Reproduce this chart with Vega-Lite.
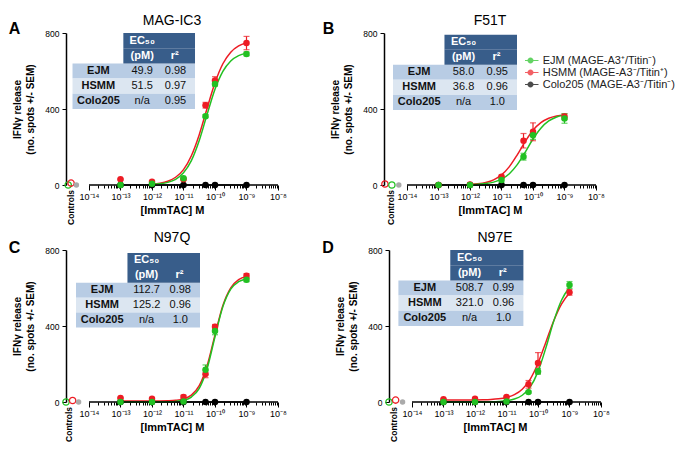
{
"$schema": "https://vega.github.io/schema/vega-lite/v6.json",
"padding": {"left": 8, "top": 14, "right": 0, "bottom": 0},
"config": {"font": "Liberation Sans", "view": {"stroke": null}, "title": {"color": "#000", "font": "Liberation Sans"}},
"datasets": {
"pts": [
{"panel":"A","series":"Colo205","conc":1e-13,"resp":0},{"panel":"A","series":"Colo205","conc":1e-12,"resp":0},{"panel":"A","series":"Colo205","conc":1e-11,"resp":0},{"panel":"A","series":"Colo205","conc":5e-11,"resp":0},{"panel":"A","series":"Colo205","conc":1e-10,"resp":0},{"panel":"A","series":"Colo205","conc":1e-9,"resp":0},
{"panel":"A","series":"HSMM","conc":1e-13,"resp":30,"lo":26,"hi":34},{"panel":"A","series":"HSMM","conc":1e-12,"resp":17,"lo":14,"hi":20},{"panel":"A","series":"HSMM","conc":1e-11,"resp":30,"lo":25,"hi":35},{"panel":"A","series":"HSMM","conc":5e-11,"resp":420,"lo":405,"hi":435},{"panel":"A","series":"HSMM","conc":1e-10,"resp":550,"lo":530,"hi":570},{"panel":"A","series":"HSMM","conc":1e-9,"resp":747,"lo":712,"hi":782},
{"panel":"A","series":"EJM","conc":1e-13,"resp":0},{"panel":"A","series":"EJM","conc":1e-12,"resp":7,"lo":4,"hi":10},{"panel":"A","series":"EJM","conc":1e-11,"resp":35,"lo":30,"hi":40},{"panel":"A","series":"EJM","conc":5e-11,"resp":362,"lo":354,"hi":370},{"panel":"A","series":"EJM","conc":1e-10,"resp":532,"lo":520,"hi":544},{"panel":"A","series":"EJM","conc":1e-9,"resp":690,"lo":680,"hi":700},
{"panel":"B","series":"Colo205","conc":1e-13,"resp":0},{"panel":"B","series":"Colo205","conc":1e-12,"resp":0},{"panel":"B","series":"Colo205","conc":1e-11,"resp":0},{"panel":"B","series":"Colo205","conc":5e-11,"resp":0},{"panel":"B","series":"Colo205","conc":1e-10,"resp":0},{"panel":"B","series":"Colo205","conc":1e-9,"resp":0},
{"panel":"B","series":"HSMM","conc":1e-13,"resp":0},{"panel":"B","series":"HSMM","conc":1e-12,"resp":3,"lo":1,"hi":5},{"panel":"B","series":"HSMM","conc":1e-11,"resp":44,"lo":36,"hi":52},{"panel":"B","series":"HSMM","conc":5e-11,"resp":233,"lo":195,"hi":271},{"panel":"B","series":"HSMM","conc":1e-10,"resp":280,"lo":233,"hi":327},{"panel":"B","series":"HSMM","conc":1e-9,"resp":360,"lo":345,"hi":375},
{"panel":"B","series":"EJM","conc":1e-13,"resp":0},{"panel":"B","series":"EJM","conc":1e-12,"resp":0},{"panel":"B","series":"EJM","conc":1e-11,"resp":26,"lo":11,"hi":41},{"panel":"B","series":"EJM","conc":5e-11,"resp":149,"lo":131,"hi":167},{"panel":"B","series":"EJM","conc":1e-10,"resp":262,"lo":240,"hi":284},{"panel":"B","series":"EJM","conc":1e-9,"resp":350,"lo":325,"hi":375},
{"panel":"C","series":"Colo205","conc":1e-13,"resp":0},{"panel":"C","series":"Colo205","conc":1e-12,"resp":0},{"panel":"C","series":"Colo205","conc":1e-11,"resp":0},{"panel":"C","series":"Colo205","conc":5e-11,"resp":0},{"panel":"C","series":"Colo205","conc":1e-10,"resp":0},{"panel":"C","series":"Colo205","conc":1e-9,"resp":0},
{"panel":"C","series":"HSMM","conc":1e-13,"resp":21,"lo":18,"hi":24},{"panel":"C","series":"HSMM","conc":1e-12,"resp":17,"lo":14,"hi":20},{"panel":"C","series":"HSMM","conc":1e-11,"resp":26,"lo":16,"hi":36},{"panel":"C","series":"HSMM","conc":5e-11,"resp":148,"lo":128,"hi":168},{"panel":"C","series":"HSMM","conc":1e-10,"resp":396,"lo":384,"hi":408},{"panel":"C","series":"HSMM","conc":1e-9,"resp":664,"lo":652,"hi":676},
{"panel":"C","series":"EJM","conc":1e-13,"resp":0},{"panel":"C","series":"EJM","conc":1e-12,"resp":0},{"panel":"C","series":"EJM","conc":1e-11,"resp":3},{"panel":"C","series":"EJM","conc":5e-11,"resp":170,"lo":145,"hi":195},{"panel":"C","series":"EJM","conc":1e-10,"resp":374,"lo":354,"hi":394},{"panel":"C","series":"EJM","conc":1e-9,"resp":643,"lo":633,"hi":653},
{"panel":"D","series":"Colo205","conc":1e-13,"resp":0},{"panel":"D","series":"Colo205","conc":1e-12,"resp":0},{"panel":"D","series":"Colo205","conc":1e-11,"resp":0},{"panel":"D","series":"Colo205","conc":5e-11,"resp":0},{"panel":"D","series":"Colo205","conc":1e-10,"resp":0},{"panel":"D","series":"Colo205","conc":1e-9,"resp":0},
{"panel":"D","series":"HSMM","conc":1e-13,"resp":14,"lo":11,"hi":17},{"panel":"D","series":"HSMM","conc":1e-12,"resp":17,"lo":14,"hi":20},{"panel":"D","series":"HSMM","conc":1e-11,"resp":26,"lo":22,"hi":30},{"panel":"D","series":"HSMM","conc":5e-11,"resp":93,"lo":73,"hi":113},{"panel":"D","series":"HSMM","conc":1e-10,"resp":205,"lo":150,"hi":260},{"panel":"D","series":"HSMM","conc":1e-9,"resp":577,"lo":562,"hi":592},
{"panel":"D","series":"EJM","conc":1e-13,"resp":0},{"panel":"D","series":"EJM","conc":1e-12,"resp":0},{"panel":"D","series":"EJM","conc":1e-11,"resp":3},{"panel":"D","series":"EJM","conc":5e-11,"resp":52,"lo":47,"hi":57},{"panel":"D","series":"EJM","conc":1e-10,"resp":161,"lo":146,"hi":176},{"panel":"D","series":"EJM","conc":1e-9,"resp":616,"lo":598,"hi":634}
],
"ctrl": [
{"panel":"A","series":"EJM","conc":2.188e-15,"resp":0},{"panel":"A","series":"HSMM","conc":2.692e-15,"resp":10},{"panel":"A","series":"Cells","conc":3.981e-15,"resp":0},
{"panel":"B","series":"HSMM","conc":1.995e-15,"resp":5},{"panel":"B","series":"EJM","conc":3.311e-15,"resp":0},{"panel":"B","series":"Cells","conc":5.495e-15,"resp":0},
{"panel":"C","series":"EJM","conc":1.862e-15,"resp":0},{"panel":"C","series":"HSMM","conc":3.02e-15,"resp":8},{"panel":"C","series":"Cells","conc":4.677e-15,"resp":0},
{"panel":"D","series":"EJM","conc":1.862e-15,"resp":0},{"panel":"D","series":"HSMM","conc":3.02e-15,"resp":10},{"panel":"D","series":"Cells","conc":5.012e-15,"resp":0}
],
"fit": [
{"panel":"A","series":"Colo205","conc":1e-13,"resp":0},{"panel":"A","series":"Colo205","conc":1e-9,"resp":0},
{"panel":"A","series":"HSMM","conc":1e-12,"resp":4.5},{"panel":"A","series":"HSMM","conc":1.778e-12,"resp":9.5},{"panel":"A","series":"HSMM","conc":3.162e-12,"resp":19.8},{"panel":"A","series":"HSMM","conc":5.623e-12,"resp":40.7},{"panel":"A","series":"HSMM","conc":1e-11,"resp":81},{"panel":"A","series":"HSMM","conc":1.778e-11,"resp":154},{"panel":"A","series":"HSMM","conc":3.162e-11,"resp":265},{"panel":"A","series":"HSMM","conc":5.623e-11,"resp":404},{"panel":"A","series":"HSMM","conc":1e-10,"resp":538},{"panel":"A","series":"HSMM","conc":1.778e-10,"resp":638},{"panel":"A","series":"HSMM","conc":3.162e-10,"resp":699},{"panel":"A","series":"HSMM","conc":5.623e-10,"resp":732},{"panel":"A","series":"HSMM","conc":1e-9,"resp":749},
{"panel":"A","series":"EJM","conc":1e-12,"resp":2.8},{"panel":"A","series":"EJM","conc":1.778e-12,"resp":6.2},{"panel":"A","series":"EJM","conc":3.162e-12,"resp":13.7},{"panel":"A","series":"EJM","conc":5.623e-12,"resp":30},{"panel":"A","series":"EJM","conc":1e-11,"resp":64},{"panel":"A","series":"EJM","conc":1.778e-11,"resp":128},{"panel":"A","series":"EJM","conc":3.162e-11,"resp":234},{"panel":"A","series":"EJM","conc":5.623e-11,"resp":372},{"panel":"A","series":"EJM","conc":1e-10,"resp":504},{"panel":"A","series":"EJM","conc":1.778e-10,"resp":598},{"panel":"A","series":"EJM","conc":3.162e-10,"resp":653},{"panel":"A","series":"EJM","conc":5.623e-10,"resp":681},{"panel":"A","series":"EJM","conc":1e-9,"resp":694},
{"panel":"B","series":"Colo205","conc":1e-13,"resp":0},{"panel":"B","series":"Colo205","conc":1e-9,"resp":0},
{"panel":"B","series":"HSMM","conc":1e-12,"resp":3.1},{"panel":"B","series":"HSMM","conc":1.778e-12,"resp":6.4},{"panel":"B","series":"HSMM","conc":3.162e-12,"resp":13.3},{"panel":"B","series":"HSMM","conc":5.623e-12,"resp":27.2},{"panel":"B","series":"HSMM","conc":1e-11,"resp":53.1},{"panel":"B","series":"HSMM","conc":1.778e-11,"resp":96.9},{"panel":"B","series":"HSMM","conc":3.162e-11,"resp":159},{"panel":"B","series":"HSMM","conc":5.623e-11,"resp":228},{"panel":"B","series":"HSMM","conc":1e-10,"resp":288},{"panel":"B","series":"HSMM","conc":1.778e-10,"resp":328},{"panel":"B","series":"HSMM","conc":3.162e-10,"resp":351},{"panel":"B","series":"HSMM","conc":5.623e-10,"resp":363},{"panel":"B","series":"HSMM","conc":1e-9,"resp":369},
{"panel":"B","series":"EJM","conc":1e-12,"resp":1.7},{"panel":"B","series":"EJM","conc":1.778e-12,"resp":3.5},{"panel":"B","series":"EJM","conc":3.162e-12,"resp":7.3},{"panel":"B","series":"EJM","conc":5.623e-12,"resp":15.1},{"panel":"B","series":"EJM","conc":1e-11,"resp":30.6},{"panel":"B","series":"EJM","conc":1.778e-11,"resp":59.5},{"panel":"B","series":"EJM","conc":3.162e-11,"resp":107},{"panel":"B","series":"EJM","conc":5.623e-11,"resp":172},{"panel":"B","series":"EJM","conc":1e-10,"resp":242},{"panel":"B","series":"EJM","conc":1.778e-10,"resp":299},{"panel":"B","series":"EJM","conc":3.162e-10,"resp":337},{"panel":"B","series":"EJM","conc":5.623e-10,"resp":358},{"panel":"B","series":"EJM","conc":1e-9,"resp":369},
{"panel":"C","series":"Colo205","conc":1e-13,"resp":0},{"panel":"C","series":"Colo205","conc":1e-9,"resp":0},
{"panel":"C","series":"HSMM","conc":1e-13,"resp":5},{"panel":"C","series":"HSMM","conc":3.162e-13,"resp":5.1},{"panel":"C","series":"HSMM","conc":1e-12,"resp":5.2},{"panel":"C","series":"HSMM","conc":1.778e-12,"resp":5.5},{"panel":"C","series":"HSMM","conc":3.162e-12,"resp":6.5},{"panel":"C","series":"HSMM","conc":5.623e-12,"resp":9.1},{"panel":"C","series":"HSMM","conc":1e-11,"resp":16.4},{"panel":"C","series":"HSMM","conc":1.778e-11,"resp":36.1},{"panel":"C","series":"HSMM","conc":3.162e-11,"resp":85.7},{"panel":"C","series":"HSMM","conc":5.623e-11,"resp":191},{"panel":"C","series":"HSMM","conc":1e-10,"resp":353},{"panel":"C","series":"HSMM","conc":1.778e-10,"resp":508},{"panel":"C","series":"HSMM","conc":3.162e-10,"resp":601},{"panel":"C","series":"HSMM","conc":5.623e-10,"resp":644},{"panel":"C","series":"HSMM","conc":1e-9,"resp":660.5},
{"panel":"C","series":"EJM","conc":1e-13,"resp":0},{"panel":"C","series":"EJM","conc":3.162e-13,"resp":0},{"panel":"C","series":"EJM","conc":1e-12,"resp":0.1},{"panel":"C","series":"EJM","conc":1.778e-12,"resp":0.3},{"panel":"C","series":"EJM","conc":3.162e-12,"resp":1},{"panel":"C","series":"EJM","conc":5.623e-12,"resp":3},{"panel":"C","series":"EJM","conc":1e-11,"resp":9},{"panel":"C","series":"EJM","conc":1.778e-11,"resp":26},{"panel":"C","series":"EJM","conc":3.162e-11,"resp":72},{"panel":"C","series":"EJM","conc":5.623e-11,"resp":176.5},{"panel":"C","series":"EJM","conc":1e-10,"resp":343.5},{"panel":"C","series":"EJM","conc":1.778e-10,"resp":502},{"panel":"C","series":"EJM","conc":3.162e-10,"resp":594.5},{"panel":"C","series":"EJM","conc":5.623e-10,"resp":633},{"panel":"C","series":"EJM","conc":1e-9,"resp":647.6},
{"panel":"D","series":"Colo205","conc":1e-13,"resp":0},{"panel":"D","series":"Colo205","conc":1e-9,"resp":0},
{"panel":"D","series":"HSMM","conc":1e-13,"resp":10},{"panel":"D","series":"HSMM","conc":3.162e-13,"resp":10.2},{"panel":"D","series":"HSMM","conc":1e-12,"resp":10.7},{"panel":"D","series":"HSMM","conc":1.778e-12,"resp":11.5},{"panel":"D","series":"HSMM","conc":3.162e-12,"resp":13.1},{"panel":"D","series":"HSMM","conc":5.623e-12,"resp":16.6},{"panel":"D","series":"HSMM","conc":1e-11,"resp":23.8},{"panel":"D","series":"HSMM","conc":1.778e-11,"resp":38.4},{"panel":"D","series":"HSMM","conc":3.162e-11,"resp":67.2},{"panel":"D","series":"HSMM","conc":5.623e-11,"resp":119.6},{"panel":"D","series":"HSMM","conc":1e-10,"resp":204},{"panel":"D","series":"HSMM","conc":1.778e-10,"resp":315},{"panel":"D","series":"HSMM","conc":3.162e-10,"resp":428},{"panel":"D","series":"HSMM","conc":5.623e-10,"resp":517},{"panel":"D","series":"HSMM","conc":1e-9,"resp":574},
{"panel":"D","series":"EJM","conc":1e-13,"resp":0},{"panel":"D","series":"EJM","conc":3.162e-13,"resp":0},{"panel":"D","series":"EJM","conc":1e-12,"resp":0.2},{"panel":"D","series":"EJM","conc":1.778e-12,"resp":0.5},{"panel":"D","series":"EJM","conc":3.162e-12,"resp":1.2},{"panel":"D","series":"EJM","conc":5.623e-12,"resp":2.8},{"panel":"D","series":"EJM","conc":1e-11,"resp":6.6},{"panel":"D","series":"EJM","conc":1.778e-11,"resp":15.4},{"panel":"D","series":"EJM","conc":3.162e-11,"resp":35.5},{"panel":"D","series":"EJM","conc":5.623e-11,"resp":78.4},{"panel":"D","series":"EJM","conc":1e-10,"resp":160},{"panel":"D","series":"EJM","conc":1.778e-10,"resp":285},{"panel":"D","series":"EJM","conc":3.162e-10,"resp":425.6},{"panel":"D","series":"EJM","conc":5.623e-10,"resp":537},{"panel":"D","series":"EJM","conc":1e-9,"resp":604}
],
"tbl": [
{"panel":"A","row":"h1","name":"","ec50":"EC₅₀","r2":""},{"panel":"A","row":"h2","name":"","ec50":"(pM)","r2":"r²"},{"panel":"A","row":"EJM","name":"EJM","ec50":"49.9","r2":"0.98"},{"panel":"A","row":"HSMM","name":"HSMM","ec50":"51.5","r2":"0.97"},{"panel":"A","row":"Colo205","name":"Colo205","ec50":"n/a","r2":"0.95"},
{"panel":"B","row":"h1","name":"","ec50":"EC₅₀","r2":""},{"panel":"B","row":"h2","name":"","ec50":"(pM)","r2":"r²"},{"panel":"B","row":"EJM","name":"EJM","ec50":"58.0","r2":"0.95"},{"panel":"B","row":"HSMM","name":"HSMM","ec50":"36.8","r2":"0.96"},{"panel":"B","row":"Colo205","name":"Colo205","ec50":"n/a","r2":"1.0"},
{"panel":"C","row":"h1","name":"","ec50":"EC₅₀","r2":""},{"panel":"C","row":"h2","name":"","ec50":"(pM)","r2":"r²"},{"panel":"C","row":"EJM","name":"EJM","ec50":"112.7","r2":"0.98"},{"panel":"C","row":"HSMM","name":"HSMM","ec50":"125.2","r2":"0.96"},{"panel":"C","row":"Colo205","name":"Colo205","ec50":"n/a","r2":"1.0"},
{"panel":"D","row":"h1","name":"","ec50":"EC₅₀","r2":""},{"panel":"D","row":"h2","name":"","ec50":"(pM)","r2":"r²"},{"panel":"D","row":"EJM","name":"EJM","ec50":"508.7","r2":"0.99"},{"panel":"D","row":"HSMM","name":"HSMM","ec50":"321.0","r2":"0.96"},{"panel":"D","row":"Colo205","name":"Colo205","ec50":"n/a","r2":"1.0"}
]
},
"spacing": 6,
"vconcat": [
{"spacing": 35, "hconcat": [
{"title": {"text": "A", "anchor": "start", "frame": "bounds", "fontSize": 16, "fontWeight": "bold", "offset": -22.5, "dx": -4},
 "vconcat": [{
  "title": {"text": "MAG-IC3", "fontSize": 14, "fontWeight": "normal", "offset": 1},
  "width": 212, "height": 152,
  "layer": [
   {"layer": [
    {"data": {"name": "fit"}, "transform": [{"filter": "datum.panel === 'A'"}],
     "mark": {"type": "line", "interpolate": "monotone", "strokeWidth": 1.5},
     "encoding": {
      "x": {"field": "conc", "type": "quantitative", "scale": {"type": "log", "domain": [1.862e-15, 1e-8], "nice": false},
        "axis": {"values": [1e-14,2e-14,3e-14,4e-14,5e-14,6e-14,7e-14,8e-14,9e-14,1e-13,2e-13,3e-13,4e-13,5e-13,6e-13,7e-13,8e-13,9e-13,1e-12,2e-12,3e-12,4e-12,5e-12,6e-12,7e-12,8e-12,9e-12,1e-11,2e-11,3e-11,4e-11,5e-11,6e-11,7e-11,8e-11,9e-11,1e-10,2e-10,3e-10,4e-10,5e-10,6e-10,7e-10,8e-10,9e-10,1e-9,2e-9,3e-9,4e-9,5e-9,6e-9,7e-9,8e-9,9e-9,1e-8],
         "labelExpr": "indexof([1e-14,1e-13,1e-12,1e-11,1e-10,1e-9,1e-8], datum.value) < 0 ? '' : ['10⁻¹⁴','10⁻¹³','10⁻¹²','10⁻¹¹','10⁻¹⁰','10⁻⁹','10⁻⁸'][indexof([1e-14,1e-13,1e-12,1e-11,1e-10,1e-9,1e-8], datum.value)]",
         "tickSize": {"condition": {"test": "indexof([1e-14,1e-13,1e-12,1e-11,1e-10,1e-9,1e-8], datum.value) >= 0", "value": 5}, "value": 3},
         "domain": false, "grid": false, "tickColor": "#000", "tickWidth": 1, "labelFontSize": 9, "labelColor": "#000", "labelPadding": 2, "labelOverlap": false, "labelFlush": false, "labelBound": false,
         "title": "[ImmTAC] M", "titleFontSize": 11, "titleFontWeight": "bold", "titleColor": "#000", "titlePadding": 3}},
      "y": {"field": "resp", "type": "quantitative", "scale": {"domain": [0, 800], "nice": false},
        "axis": {"values": [0,100,200,300,400,500,600,700,800], "format": "d", "labelExpr": "datum.value % 200 === 0 ? datum.label : ''", "tickSize": {"condition": {"test": "datum.value % 200 === 0", "value": 4}, "value": 2.5}, "domainColor": "#000", "domainWidth": 1.5, "tickColor": "#000", "grid": false, "labelFontSize": 8.5, "labelColor": "#000", "labelPadding": 3, "labelOverlap": false, "title": ["IFNγ release", "(no. spots +/- SEM)"], "titleFontSize": 10, "titleFontWeight": "bold", "titleColor": "#000", "titleLineHeight": 13, "titlePadding": 9}},
      "color": {"field": "series", "type": "nominal", "scale": {"domain": ["EJM", "HSMM", "Colo205"], "range": ["#22c022", "#ed1c24", "#000000"]},
        "legend": {"orient": "none", "legendX": 459, "legendY": 21.5, "title": null, "labelExpr": "datum.label === 'EJM' ? 'EJM (MAGE-A3⁺/Titin⁻)' : datum.label === 'HSMM' ? 'HSMM (MAGE-A3⁻/Titin⁺)' : 'Colo205 (MAGE-A3⁻/Titin⁻)'", "symbolType": "M-1.6,-0.12L1.6,-0.12L1.6,0.12L-1.6,0.12Z M0.6,0A0.6,0.6,0,1,1,-0.6,0A0.6,0.6,0,1,1,0.6,0Z", "symbolSize": 100, "symbolStrokeWidth": 0, "labelFontSize": 11, "labelColor": "#222", "labelLimit": 200, "clipHeight": 12, "rowPadding": 0, "labelOffset": 6.7, "padding": 0}}}},
    {"data": {"values": [{}]}, "mark": {"type": "rule", "color": "#000", "strokeWidth": 1.5},
     "encoding": {"x": {"datum": 1e-14, "type": "quantitative"}, "x2": {"datum": 1e-8}, "y": {"datum": 0, "type": "quantitative"}}},
    {"data": {"name": "pts"}, "transform": [{"filter": "datum.panel === 'A' && isValid(datum.hi)"}],
     "mark": {"type": "rule", "strokeWidth": 1.2},
     "encoding": {"x": {"field": "conc", "type": "quantitative"}, "y": {"field": "lo", "type": "quantitative"}, "y2": {"field": "hi"}, "color": {"field": "series", "type": "nominal"}}},
    {"data": {"name": "pts"}, "transform": [{"filter": "datum.panel === 'A' && isValid(datum.hi)"}],
     "mark": {"type": "tick", "orient": "horizontal", "size": 6, "thickness": 1.2},
     "encoding": {"x": {"field": "conc", "type": "quantitative"}, "y": {"field": "hi", "type": "quantitative"}, "color": {"field": "series", "type": "nominal"}}},
    {"data": {"name": "pts"}, "transform": [{"filter": "datum.panel === 'A' && isValid(datum.lo)"}],
     "mark": {"type": "tick", "orient": "horizontal", "size": 6, "thickness": 1.2},
     "encoding": {"x": {"field": "conc", "type": "quantitative"}, "y": {"field": "lo", "type": "quantitative"}, "color": {"field": "series", "type": "nominal"}}},
    {"data": {"name": "pts"}, "transform": [{"filter": "datum.panel === 'A'"}],
     "mark": {"type": "point", "filled": true, "size": 42, "opacity": 1},
     "encoding": {"x": {"field": "conc", "type": "quantitative"}, "y": {"field": "resp", "type": "quantitative"}, "color": {"field": "series", "type": "nominal"}}},
    {"data": {"name": "ctrl"}, "transform": [{"filter": "datum.panel === 'A' && datum.series !== 'Cells'"}],
     "mark": {"type": "point", "filled": false, "size": 40, "strokeWidth": 1.3, "opacity": 1},
     "encoding": {"x": {"field": "conc", "type": "quantitative"}, "y": {"field": "resp", "type": "quantitative"}, "color": {"field": "series", "type": "nominal"}}},
    {"data": {"name": "ctrl"}, "transform": [{"filter": "datum.panel === 'A' && datum.series === 'Cells'"}],
     "mark": {"type": "point", "filled": true, "size": 30, "color": "#aaaaaa", "opacity": 1},
     "encoding": {"x": {"field": "conc", "type": "quantitative"}, "y": {"field": "resp", "type": "quantitative"}}},
    {"data": {"values": [{}]}, "mark": {"type": "text", "text": "Controls", "angle": 270, "align": "right", "baseline": "middle", "dx": -5, "fontSize": 8.5, "fontWeight": "bold", "color": "#000"},
     "encoding": {"x": {"datum": 2.64e-15, "type": "quantitative"}, "y": {"datum": 0, "type": "quantitative"}}}
   ]},
   {"data": {"name": "tbl"}, "transform": [{"filter": "datum.panel === 'A'"}],
    "layer": [
     {"transform": [{"filter": "datum.row !== 'h1' && datum.row !== 'h2'"}], "mark": {"type": "rect"},
      "encoding": {"x": {"datum": 0, "type": "quantitative", "scale": {"domain": [-0.0531, 1.6775], "nice": false, "zero": false}, "axis": null}, "x2": {"datum": 1},
       "y": {"field": "row", "type": "nominal", "scale": {"domain": ["h1", "h2", "EJM", "HSMM", "Colo205", "_1", "_2", "_3", "_4", "_5"], "paddingInner": 0, "paddingOuter": 0, "align": 0}, "axis": null},
       "fill": {"condition": {"test": "datum.row === 'HSMM'", "value": "#dce6f1"}, "value": "#b8cce4"}}},
     {"transform": [{"filter": "datum.row === 'h1' || datum.row === 'h2'"}], "mark": {"type": "rect", "color": "#385d8a"},
      "encoding": {"x": {"datum": 0.415, "type": "quantitative"}, "x2": {"datum": 1}, "y": {"field": "row", "type": "nominal"}}},
     {"transform": [{"filter": "datum.row !== 'h1' && datum.row !== 'h2'"}], "mark": {"type": "text", "fontSize": 11, "fontWeight": "bold", "color": "#111"},
      "encoding": {"x": {"datum": 0.211, "type": "quantitative"}, "y": {"field": "row", "type": "nominal"}, "text": {"field": "name"}}},
     {"transform": [{"filter": "datum.row !== 'h1' && datum.row !== 'h2'"}], "mark": {"type": "text", "fontSize": 11, "color": "#111"},
      "encoding": {"x": {"datum": 0.569, "type": "quantitative"}, "y": {"field": "row", "type": "nominal"}, "text": {"field": "ec50"}}},
     {"transform": [{"filter": "datum.row !== 'h1' && datum.row !== 'h2'"}], "mark": {"type": "text", "fontSize": 11, "color": "#111"},
      "encoding": {"x": {"datum": 0.841, "type": "quantitative"}, "y": {"field": "row", "type": "nominal"}, "text": {"field": "r2"}}},
     {"transform": [{"filter": "datum.row === 'h1' || datum.row === 'h2'"}], "mark": {"type": "text", "fontSize": 11, "fontWeight": "bold", "color": "#ffffff"},
      "encoding": {"x": {"datum": 0.569, "type": "quantitative"}, "y": {"field": "row", "type": "nominal"}, "text": {"field": "ec50"}}},
     {"transform": [{"filter": "datum.row === 'h1' || datum.row === 'h2'"}], "mark": {"type": "text", "fontSize": 11, "fontWeight": "bold", "color": "#ffffff"},
      "encoding": {"x": {"datum": 0.835, "type": "quantitative"}, "y": {"field": "row", "type": "nominal"}, "text": {"field": "r2"}}}
    ]}
  ],
  "resolve": {"scale": {"x": "independent", "y": "independent"}}
 }]
},
{"title": {"text": "B", "anchor": "start", "frame": "bounds", "fontSize": 16, "fontWeight": "bold", "offset": -22.5, "dx": -8},
 "vconcat": [{
  "title": {"text": "F51T", "fontSize": 14, "fontWeight": "normal", "offset": 1},
  "width": 212, "height": 152,
  "layer": [
   {"layer": [
    {"data": {"name": "fit"}, "transform": [{"filter": "datum.panel === 'B'"}],
     "mark": {"type": "line", "interpolate": "monotone", "strokeWidth": 1.5},
     "encoding": {
      "x": {"field": "conc", "type": "quantitative", "scale": {"type": "log", "domain": [1.862e-15, 1e-8], "nice": false},
        "axis": {"values": [1e-14,2e-14,3e-14,4e-14,5e-14,6e-14,7e-14,8e-14,9e-14,1e-13,2e-13,3e-13,4e-13,5e-13,6e-13,7e-13,8e-13,9e-13,1e-12,2e-12,3e-12,4e-12,5e-12,6e-12,7e-12,8e-12,9e-12,1e-11,2e-11,3e-11,4e-11,5e-11,6e-11,7e-11,8e-11,9e-11,1e-10,2e-10,3e-10,4e-10,5e-10,6e-10,7e-10,8e-10,9e-10,1e-9,2e-9,3e-9,4e-9,5e-9,6e-9,7e-9,8e-9,9e-9,1e-8],
         "labelExpr": "indexof([1e-14,1e-13,1e-12,1e-11,1e-10,1e-9,1e-8], datum.value) < 0 ? '' : ['10⁻¹⁴','10⁻¹³','10⁻¹²','10⁻¹¹','10⁻¹⁰','10⁻⁹','10⁻⁸'][indexof([1e-14,1e-13,1e-12,1e-11,1e-10,1e-9,1e-8], datum.value)]",
         "tickSize": {"condition": {"test": "indexof([1e-14,1e-13,1e-12,1e-11,1e-10,1e-9,1e-8], datum.value) >= 0", "value": 5}, "value": 3},
         "domain": false, "grid": false, "tickColor": "#000", "tickWidth": 1, "labelFontSize": 9, "labelColor": "#000", "labelPadding": 2, "labelOverlap": false, "labelFlush": false, "labelBound": false,
         "title": "[ImmTAC] M", "titleFontSize": 11, "titleFontWeight": "bold", "titleColor": "#000", "titlePadding": 3}},
      "y": {"field": "resp", "type": "quantitative", "scale": {"domain": [0, 800], "nice": false},
        "axis": {"values": [0,100,200,300,400,500,600,700,800], "format": "d", "labelExpr": "datum.value % 200 === 0 ? datum.label : ''", "tickSize": {"condition": {"test": "datum.value % 200 === 0", "value": 4}, "value": 2.5}, "domainColor": "#000", "domainWidth": 1.5, "tickColor": "#000", "grid": false, "labelFontSize": 8.5, "labelColor": "#000", "labelPadding": 3, "labelOverlap": false, "title": ["IFNγ release", "(no. spots +/- SEM)"], "titleFontSize": 10, "titleFontWeight": "bold", "titleColor": "#000", "titleLineHeight": 13, "titlePadding": 9}},
      "color": {"field": "series", "type": "nominal",
        "legend": {"orient": "none", "legendX": 459, "legendY": 21.5, "title": null, "labelExpr": "datum.label === 'EJM' ? 'EJM (MAGE-A3⁺/Titin⁻)' : datum.label === 'HSMM' ? 'HSMM (MAGE-A3⁻/Titin⁺)' : 'Colo205 (MAGE-A3⁻/Titin⁻)'", "symbolType": "M-1.6,-0.12L1.6,-0.12L1.6,0.12L-1.6,0.12Z M0.6,0A0.6,0.6,0,1,1,-0.6,0A0.6,0.6,0,1,1,0.6,0Z", "symbolSize": 100, "symbolStrokeWidth": 0, "labelFontSize": 11, "labelColor": "#222", "labelLimit": 200, "clipHeight": 12, "rowPadding": 0, "labelOffset": 6.7, "padding": 0}}}},
    {"data": {"values": [{}]}, "mark": {"type": "rule", "color": "#000", "strokeWidth": 1.5},
     "encoding": {"x": {"datum": 1e-14, "type": "quantitative"}, "x2": {"datum": 1e-8}, "y": {"datum": 0, "type": "quantitative"}}},
    {"data": {"name": "pts"}, "transform": [{"filter": "datum.panel === 'B' && isValid(datum.hi)"}],
     "mark": {"type": "rule", "strokeWidth": 1.2},
     "encoding": {"x": {"field": "conc", "type": "quantitative"}, "y": {"field": "lo", "type": "quantitative"}, "y2": {"field": "hi"}, "color": {"field": "series", "type": "nominal"}}},
    {"data": {"name": "pts"}, "transform": [{"filter": "datum.panel === 'B' && isValid(datum.hi)"}],
     "mark": {"type": "tick", "orient": "horizontal", "size": 6, "thickness": 1.2},
     "encoding": {"x": {"field": "conc", "type": "quantitative"}, "y": {"field": "hi", "type": "quantitative"}, "color": {"field": "series", "type": "nominal"}}},
    {"data": {"name": "pts"}, "transform": [{"filter": "datum.panel === 'B' && isValid(datum.lo)"}],
     "mark": {"type": "tick", "orient": "horizontal", "size": 6, "thickness": 1.2},
     "encoding": {"x": {"field": "conc", "type": "quantitative"}, "y": {"field": "lo", "type": "quantitative"}, "color": {"field": "series", "type": "nominal"}}},
    {"data": {"name": "pts"}, "transform": [{"filter": "datum.panel === 'B'"}],
     "mark": {"type": "point", "filled": true, "size": 42, "opacity": 1},
     "encoding": {"x": {"field": "conc", "type": "quantitative"}, "y": {"field": "resp", "type": "quantitative"}, "color": {"field": "series", "type": "nominal"}}},
    {"data": {"name": "ctrl"}, "transform": [{"filter": "datum.panel === 'B' && datum.series !== 'Cells'"}],
     "mark": {"type": "point", "filled": false, "size": 40, "strokeWidth": 1.3, "opacity": 1},
     "encoding": {"x": {"field": "conc", "type": "quantitative"}, "y": {"field": "resp", "type": "quantitative"}, "color": {"field": "series", "type": "nominal"}}},
    {"data": {"name": "ctrl"}, "transform": [{"filter": "datum.panel === 'B' && datum.series === 'Cells'"}],
     "mark": {"type": "point", "filled": true, "size": 30, "color": "#aaaaaa", "opacity": 1},
     "encoding": {"x": {"field": "conc", "type": "quantitative"}, "y": {"field": "resp", "type": "quantitative"}}},
    {"data": {"values": [{}]}, "mark": {"type": "text", "text": "Controls", "angle": 270, "align": "right", "baseline": "middle", "dx": -5, "fontSize": 8.5, "fontWeight": "bold", "color": "#000"},
     "encoding": {"x": {"datum": 3.2e-15, "type": "quantitative"}, "y": {"datum": 0, "type": "quantitative"}}}
   ]},
   {"data": {"name": "tbl"}, "transform": [{"filter": "datum.panel === 'B'"}],
    "layer": [
     {"transform": [{"filter": "datum.row !== 'h1' && datum.row !== 'h2'"}], "mark": {"type": "rect"},
      "encoding": {"x": {"datum": 0, "type": "quantitative", "scale": {"domain": [-0.0726, 1.6371], "nice": false, "zero": false}, "axis": null}, "x2": {"datum": 1},
       "y": {"field": "row", "type": "nominal", "scale": {"domain": ["h1", "h2", "EJM", "HSMM", "Colo205", "_1", "_2", "_3", "_4", "_5"], "paddingInner": 0, "paddingOuter": 0.06, "align": 1}, "axis": null},
       "fill": {"condition": {"test": "datum.row === 'HSMM'", "value": "#dce6f1"}, "value": "#b8cce4"}}},
     {"transform": [{"filter": "datum.row === 'h1' || datum.row === 'h2'"}], "mark": {"type": "rect", "color": "#385d8a"},
      "encoding": {"x": {"datum": 0.415, "type": "quantitative"}, "x2": {"datum": 1}, "y": {"field": "row", "type": "nominal"}}},
     {"transform": [{"filter": "datum.row !== 'h1' && datum.row !== 'h2'"}], "mark": {"type": "text", "fontSize": 11, "fontWeight": "bold", "color": "#111"},
      "encoding": {"x": {"datum": 0.211, "type": "quantitative"}, "y": {"field": "row", "type": "nominal"}, "text": {"field": "name"}}},
     {"transform": [{"filter": "datum.row !== 'h1' && datum.row !== 'h2'"}], "mark": {"type": "text", "fontSize": 11, "color": "#111"},
      "encoding": {"x": {"datum": 0.569, "type": "quantitative"}, "y": {"field": "row", "type": "nominal"}, "text": {"field": "ec50"}}},
     {"transform": [{"filter": "datum.row !== 'h1' && datum.row !== 'h2'"}], "mark": {"type": "text", "fontSize": 11, "color": "#111"},
      "encoding": {"x": {"datum": 0.841, "type": "quantitative"}, "y": {"field": "row", "type": "nominal"}, "text": {"field": "r2"}}},
     {"transform": [{"filter": "datum.row === 'h1' || datum.row === 'h2'"}], "mark": {"type": "text", "fontSize": 11, "fontWeight": "bold", "color": "#ffffff"},
      "encoding": {"x": {"datum": 0.569, "type": "quantitative"}, "y": {"field": "row", "type": "nominal"}, "text": {"field": "ec50"}}},
     {"transform": [{"filter": "datum.row === 'h1' || datum.row === 'h2'"}], "mark": {"type": "text", "fontSize": 11, "fontWeight": "bold", "color": "#ffffff"},
      "encoding": {"x": {"datum": 0.835, "type": "quantitative"}, "y": {"field": "row", "type": "nominal"}, "text": {"field": "r2"}}}
    ]}
  ],
  "resolve": {"scale": {"x": "independent", "y": "independent"}}
 }]
}
]},
{"spacing": 35, "hconcat": [
{"title": {"text": "C", "anchor": "start", "frame": "bounds", "fontSize": 16, "fontWeight": "bold", "offset": -24.5, "dx": -4},
 "vconcat": [{
  "title": {"text": "N97Q", "fontSize": 14, "fontWeight": "normal", "offset": 1},
  "width": 212, "height": 152,
  "layer": [
   {"layer": [
    {"data": {"name": "fit"}, "transform": [{"filter": "datum.panel === 'C'"}],
     "mark": {"type": "line", "interpolate": "monotone", "strokeWidth": 1.5},
     "encoding": {
      "x": {"field": "conc", "type": "quantitative", "scale": {"type": "log", "domain": [1.862e-15, 1e-8], "nice": false},
        "axis": {"values": [1e-14,2e-14,3e-14,4e-14,5e-14,6e-14,7e-14,8e-14,9e-14,1e-13,2e-13,3e-13,4e-13,5e-13,6e-13,7e-13,8e-13,9e-13,1e-12,2e-12,3e-12,4e-12,5e-12,6e-12,7e-12,8e-12,9e-12,1e-11,2e-11,3e-11,4e-11,5e-11,6e-11,7e-11,8e-11,9e-11,1e-10,2e-10,3e-10,4e-10,5e-10,6e-10,7e-10,8e-10,9e-10,1e-9,2e-9,3e-9,4e-9,5e-9,6e-9,7e-9,8e-9,9e-9,1e-8],
         "labelExpr": "indexof([1e-14,1e-13,1e-12,1e-11,1e-10,1e-9,1e-8], datum.value) < 0 ? '' : ['10⁻¹⁴','10⁻¹³','10⁻¹²','10⁻¹¹','10⁻¹⁰','10⁻⁹','10⁻⁸'][indexof([1e-14,1e-13,1e-12,1e-11,1e-10,1e-9,1e-8], datum.value)]",
         "tickSize": {"condition": {"test": "indexof([1e-14,1e-13,1e-12,1e-11,1e-10,1e-9,1e-8], datum.value) >= 0", "value": 5}, "value": 3},
         "domain": false, "grid": false, "tickColor": "#000", "tickWidth": 1, "labelFontSize": 9, "labelColor": "#000", "labelPadding": 2, "labelOverlap": false, "labelFlush": false, "labelBound": false,
         "title": "[ImmTAC] M", "titleFontSize": 11, "titleFontWeight": "bold", "titleColor": "#000", "titlePadding": 3}},
      "y": {"field": "resp", "type": "quantitative", "scale": {"domain": [0, 800], "nice": false},
        "axis": {"values": [0,100,200,300,400,500,600,700,800], "format": "d", "labelExpr": "datum.value % 200 === 0 ? datum.label : ''", "tickSize": {"condition": {"test": "datum.value % 200 === 0", "value": 4}, "value": 2.5}, "domainColor": "#000", "domainWidth": 1.5, "tickColor": "#000", "grid": false, "labelFontSize": 8.5, "labelColor": "#000", "labelPadding": 3, "labelOverlap": false, "title": ["IFNγ release", "(no. spots +/- SEM)"], "titleFontSize": 10, "titleFontWeight": "bold", "titleColor": "#000", "titleLineHeight": 13, "titlePadding": 9}},
      "color": {"field": "series", "type": "nominal",
        "legend": {"orient": "none", "legendX": 459, "legendY": 21.5, "title": null, "labelExpr": "datum.label === 'EJM' ? 'EJM (MAGE-A3⁺/Titin⁻)' : datum.label === 'HSMM' ? 'HSMM (MAGE-A3⁻/Titin⁺)' : 'Colo205 (MAGE-A3⁻/Titin⁻)'", "symbolType": "M-1.6,-0.12L1.6,-0.12L1.6,0.12L-1.6,0.12Z M0.6,0A0.6,0.6,0,1,1,-0.6,0A0.6,0.6,0,1,1,0.6,0Z", "symbolSize": 100, "symbolStrokeWidth": 0, "labelFontSize": 11, "labelColor": "#222", "labelLimit": 200, "clipHeight": 12, "rowPadding": 0, "labelOffset": 6.7, "padding": 0}}}},
    {"data": {"values": [{}]}, "mark": {"type": "rule", "color": "#000", "strokeWidth": 1.5},
     "encoding": {"x": {"datum": 1e-14, "type": "quantitative"}, "x2": {"datum": 1e-8}, "y": {"datum": 0, "type": "quantitative"}}},
    {"data": {"name": "pts"}, "transform": [{"filter": "datum.panel === 'C' && isValid(datum.hi)"}],
     "mark": {"type": "rule", "strokeWidth": 1.2},
     "encoding": {"x": {"field": "conc", "type": "quantitative"}, "y": {"field": "lo", "type": "quantitative"}, "y2": {"field": "hi"}, "color": {"field": "series", "type": "nominal"}}},
    {"data": {"name": "pts"}, "transform": [{"filter": "datum.panel === 'C' && isValid(datum.hi)"}],
     "mark": {"type": "tick", "orient": "horizontal", "size": 6, "thickness": 1.2},
     "encoding": {"x": {"field": "conc", "type": "quantitative"}, "y": {"field": "hi", "type": "quantitative"}, "color": {"field": "series", "type": "nominal"}}},
    {"data": {"name": "pts"}, "transform": [{"filter": "datum.panel === 'C' && isValid(datum.lo)"}],
     "mark": {"type": "tick", "orient": "horizontal", "size": 6, "thickness": 1.2},
     "encoding": {"x": {"field": "conc", "type": "quantitative"}, "y": {"field": "lo", "type": "quantitative"}, "color": {"field": "series", "type": "nominal"}}},
    {"data": {"name": "pts"}, "transform": [{"filter": "datum.panel === 'C'"}],
     "mark": {"type": "point", "filled": true, "size": 42, "opacity": 1},
     "encoding": {"x": {"field": "conc", "type": "quantitative"}, "y": {"field": "resp", "type": "quantitative"}, "color": {"field": "series", "type": "nominal"}}},
    {"data": {"name": "ctrl"}, "transform": [{"filter": "datum.panel === 'C' && datum.series !== 'Cells'"}],
     "mark": {"type": "point", "filled": false, "size": 40, "strokeWidth": 1.3, "opacity": 1},
     "encoding": {"x": {"field": "conc", "type": "quantitative"}, "y": {"field": "resp", "type": "quantitative"}, "color": {"field": "series", "type": "nominal"}}},
    {"data": {"name": "ctrl"}, "transform": [{"filter": "datum.panel === 'C' && datum.series === 'Cells'"}],
     "mark": {"type": "point", "filled": true, "size": 30, "color": "#aaaaaa", "opacity": 1},
     "encoding": {"x": {"field": "conc", "type": "quantitative"}, "y": {"field": "resp", "type": "quantitative"}}},
    {"data": {"values": [{}]}, "mark": {"type": "text", "text": "Controls", "angle": 270, "align": "right", "baseline": "middle", "dx": -5, "fontSize": 8.5, "fontWeight": "bold", "color": "#000"},
     "encoding": {"x": {"datum": 2.37e-15, "type": "quantitative"}, "y": {"datum": 0, "type": "quantitative"}}}
   ]},
   {"data": {"name": "tbl"}, "transform": [{"filter": "datum.panel === 'C'"}],
    "layer": [
     {"transform": [{"filter": "datum.row !== 'h1' && datum.row !== 'h2'"}], "mark": {"type": "rect"},
      "encoding": {"x": {"datum": 0, "type": "quantitative", "scale": {"domain": [-0.0806, 1.629], "nice": false, "zero": false}, "axis": null}, "x2": {"datum": 1},
       "y": {"field": "row", "type": "nominal", "scale": {"domain": ["h1", "h2", "EJM", "HSMM", "Colo205", "_1", "_2", "_3", "_4", "_5"], "paddingInner": 0, "paddingOuter": 0.1, "align": 1}, "axis": null},
       "fill": {"condition": {"test": "datum.row === 'HSMM'", "value": "#dce6f1"}, "value": "#b8cce4"}}},
     {"transform": [{"filter": "datum.row === 'h1' || datum.row === 'h2'"}], "mark": {"type": "rect", "color": "#385d8a"},
      "encoding": {"x": {"datum": 0.415, "type": "quantitative"}, "x2": {"datum": 1}, "y": {"field": "row", "type": "nominal"}}},
     {"transform": [{"filter": "datum.row !== 'h1' && datum.row !== 'h2'"}], "mark": {"type": "text", "fontSize": 11, "fontWeight": "bold", "color": "#111"},
      "encoding": {"x": {"datum": 0.211, "type": "quantitative"}, "y": {"field": "row", "type": "nominal"}, "text": {"field": "name"}}},
     {"transform": [{"filter": "datum.row !== 'h1' && datum.row !== 'h2'"}], "mark": {"type": "text", "fontSize": 11, "color": "#111"},
      "encoding": {"x": {"datum": 0.569, "type": "quantitative"}, "y": {"field": "row", "type": "nominal"}, "text": {"field": "ec50"}}},
     {"transform": [{"filter": "datum.row !== 'h1' && datum.row !== 'h2'"}], "mark": {"type": "text", "fontSize": 11, "color": "#111"},
      "encoding": {"x": {"datum": 0.841, "type": "quantitative"}, "y": {"field": "row", "type": "nominal"}, "text": {"field": "r2"}}},
     {"transform": [{"filter": "datum.row === 'h1' || datum.row === 'h2'"}], "mark": {"type": "text", "fontSize": 11, "fontWeight": "bold", "color": "#ffffff"},
      "encoding": {"x": {"datum": 0.569, "type": "quantitative"}, "y": {"field": "row", "type": "nominal"}, "text": {"field": "ec50"}}},
     {"transform": [{"filter": "datum.row === 'h1' || datum.row === 'h2'"}], "mark": {"type": "text", "fontSize": 11, "fontWeight": "bold", "color": "#ffffff"},
      "encoding": {"x": {"datum": 0.835, "type": "quantitative"}, "y": {"field": "row", "type": "nominal"}, "text": {"field": "r2"}}}
    ]}
  ],
  "resolve": {"scale": {"x": "independent", "y": "independent"}}
 }]
},
{"title": {"text": "D", "anchor": "start", "frame": "bounds", "fontSize": 16, "fontWeight": "bold", "offset": -24.5, "dx": -13.6},
 "vconcat": [{
  "title": {"text": "N97E", "fontSize": 14, "fontWeight": "normal", "offset": 1},
  "width": 212, "height": 152,
  "layer": [
   {"layer": [
    {"data": {"name": "fit"}, "transform": [{"filter": "datum.panel === 'D'"}],
     "mark": {"type": "line", "interpolate": "monotone", "strokeWidth": 1.5},
     "encoding": {
      "x": {"field": "conc", "type": "quantitative", "scale": {"type": "log", "domain": [1.862e-15, 1e-8], "nice": false},
        "axis": {"values": [1e-14,2e-14,3e-14,4e-14,5e-14,6e-14,7e-14,8e-14,9e-14,1e-13,2e-13,3e-13,4e-13,5e-13,6e-13,7e-13,8e-13,9e-13,1e-12,2e-12,3e-12,4e-12,5e-12,6e-12,7e-12,8e-12,9e-12,1e-11,2e-11,3e-11,4e-11,5e-11,6e-11,7e-11,8e-11,9e-11,1e-10,2e-10,3e-10,4e-10,5e-10,6e-10,7e-10,8e-10,9e-10,1e-9,2e-9,3e-9,4e-9,5e-9,6e-9,7e-9,8e-9,9e-9,1e-8],
         "labelExpr": "indexof([1e-14,1e-13,1e-12,1e-11,1e-10,1e-9,1e-8], datum.value) < 0 ? '' : ['10⁻¹⁴','10⁻¹³','10⁻¹²','10⁻¹¹','10⁻¹⁰','10⁻⁹','10⁻⁸'][indexof([1e-14,1e-13,1e-12,1e-11,1e-10,1e-9,1e-8], datum.value)]",
         "tickSize": {"condition": {"test": "indexof([1e-14,1e-13,1e-12,1e-11,1e-10,1e-9,1e-8], datum.value) >= 0", "value": 5}, "value": 3},
         "domain": false, "grid": false, "tickColor": "#000", "tickWidth": 1, "labelFontSize": 9, "labelColor": "#000", "labelPadding": 2, "labelOverlap": false, "labelFlush": false, "labelBound": false,
         "title": "[ImmTAC] M", "titleFontSize": 11, "titleFontWeight": "bold", "titleColor": "#000", "titlePadding": 3}},
      "y": {"field": "resp", "type": "quantitative", "scale": {"domain": [0, 800], "nice": false},
        "axis": {"values": [0,100,200,300,400,500,600,700,800], "format": "d", "labelExpr": "datum.value % 200 === 0 ? datum.label : ''", "tickSize": {"condition": {"test": "datum.value % 200 === 0", "value": 4}, "value": 2.5}, "domainColor": "#000", "domainWidth": 1.5, "tickColor": "#000", "grid": false, "labelFontSize": 8.5, "labelColor": "#000", "labelPadding": 3, "labelOverlap": false, "title": ["IFNγ release", "(no. spots +/- SEM)"], "titleFontSize": 10, "titleFontWeight": "bold", "titleColor": "#000", "titleLineHeight": 13, "titlePadding": 9}},
      "color": {"field": "series", "type": "nominal",
        "legend": {"orient": "none", "legendX": 459, "legendY": 21.5, "title": null, "labelExpr": "datum.label === 'EJM' ? 'EJM (MAGE-A3⁺/Titin⁻)' : datum.label === 'HSMM' ? 'HSMM (MAGE-A3⁻/Titin⁺)' : 'Colo205 (MAGE-A3⁻/Titin⁻)'", "symbolType": "M-1.6,-0.12L1.6,-0.12L1.6,0.12L-1.6,0.12Z M0.6,0A0.6,0.6,0,1,1,-0.6,0A0.6,0.6,0,1,1,0.6,0Z", "symbolSize": 100, "symbolStrokeWidth": 0, "labelFontSize": 11, "labelColor": "#222", "labelLimit": 200, "clipHeight": 12, "rowPadding": 0, "labelOffset": 6.7, "padding": 0}}}},
    {"data": {"values": [{}]}, "mark": {"type": "rule", "color": "#000", "strokeWidth": 1.5},
     "encoding": {"x": {"datum": 1e-14, "type": "quantitative"}, "x2": {"datum": 1e-8}, "y": {"datum": 0, "type": "quantitative"}}},
    {"data": {"name": "pts"}, "transform": [{"filter": "datum.panel === 'D' && isValid(datum.hi)"}],
     "mark": {"type": "rule", "strokeWidth": 1.2},
     "encoding": {"x": {"field": "conc", "type": "quantitative"}, "y": {"field": "lo", "type": "quantitative"}, "y2": {"field": "hi"}, "color": {"field": "series", "type": "nominal"}}},
    {"data": {"name": "pts"}, "transform": [{"filter": "datum.panel === 'D' && isValid(datum.hi)"}],
     "mark": {"type": "tick", "orient": "horizontal", "size": 6, "thickness": 1.2},
     "encoding": {"x": {"field": "conc", "type": "quantitative"}, "y": {"field": "hi", "type": "quantitative"}, "color": {"field": "series", "type": "nominal"}}},
    {"data": {"name": "pts"}, "transform": [{"filter": "datum.panel === 'D' && isValid(datum.lo)"}],
     "mark": {"type": "tick", "orient": "horizontal", "size": 6, "thickness": 1.2},
     "encoding": {"x": {"field": "conc", "type": "quantitative"}, "y": {"field": "lo", "type": "quantitative"}, "color": {"field": "series", "type": "nominal"}}},
    {"data": {"name": "pts"}, "transform": [{"filter": "datum.panel === 'D'"}],
     "mark": {"type": "point", "filled": true, "size": 42, "opacity": 1},
     "encoding": {"x": {"field": "conc", "type": "quantitative"}, "y": {"field": "resp", "type": "quantitative"}, "color": {"field": "series", "type": "nominal"}}},
    {"data": {"name": "ctrl"}, "transform": [{"filter": "datum.panel === 'D' && datum.series !== 'Cells'"}],
     "mark": {"type": "point", "filled": false, "size": 40, "strokeWidth": 1.3, "opacity": 1},
     "encoding": {"x": {"field": "conc", "type": "quantitative"}, "y": {"field": "resp", "type": "quantitative"}, "color": {"field": "series", "type": "nominal"}}},
    {"data": {"name": "ctrl"}, "transform": [{"filter": "datum.panel === 'D' && datum.series === 'Cells'"}],
     "mark": {"type": "point", "filled": true, "size": 30, "color": "#aaaaaa", "opacity": 1},
     "encoding": {"x": {"field": "conc", "type": "quantitative"}, "y": {"field": "resp", "type": "quantitative"}}},
    {"data": {"values": [{}]}, "mark": {"type": "text", "text": "Controls", "angle": 270, "align": "right", "baseline": "middle", "dx": -5, "fontSize": 8.5, "fontWeight": "bold", "color": "#000"},
     "encoding": {"x": {"datum": 2.66e-15, "type": "quantitative"}, "y": {"datum": 0, "type": "quantitative"}}}
   ]},
   {"data": {"name": "tbl"}, "transform": [{"filter": "datum.panel === 'D'"}],
    "layer": [
     {"transform": [{"filter": "datum.row !== 'h1' && datum.row !== 'h2'"}], "mark": {"type": "rect"},
      "encoding": {"x": {"datum": 0, "type": "quantitative", "scale": {"domain": [-0.0752, 1.6208], "nice": false, "zero": false}, "axis": null}, "x2": {"datum": 1},
       "y": {"field": "row", "type": "nominal", "scale": {"domain": ["h1", "h2", "EJM", "HSMM", "Colo205", "_1", "_2", "_3", "_4", "_5"], "paddingInner": 0, "paddingOuter": 0, "align": 0}, "axis": null},
       "fill": {"condition": {"test": "datum.row === 'HSMM'", "value": "#dce6f1"}, "value": "#b8cce4"}}},
     {"transform": [{"filter": "datum.row === 'h1' || datum.row === 'h2'"}], "mark": {"type": "rect", "color": "#385d8a"},
      "encoding": {"x": {"datum": 0.415, "type": "quantitative"}, "x2": {"datum": 1}, "y": {"field": "row", "type": "nominal"}}},
     {"transform": [{"filter": "datum.row !== 'h1' && datum.row !== 'h2'"}], "mark": {"type": "text", "fontSize": 11, "fontWeight": "bold", "color": "#111"},
      "encoding": {"x": {"datum": 0.211, "type": "quantitative"}, "y": {"field": "row", "type": "nominal"}, "text": {"field": "name"}}},
     {"transform": [{"filter": "datum.row !== 'h1' && datum.row !== 'h2'"}], "mark": {"type": "text", "fontSize": 11, "color": "#111"},
      "encoding": {"x": {"datum": 0.569, "type": "quantitative"}, "y": {"field": "row", "type": "nominal"}, "text": {"field": "ec50"}}},
     {"transform": [{"filter": "datum.row !== 'h1' && datum.row !== 'h2'"}], "mark": {"type": "text", "fontSize": 11, "color": "#111"},
      "encoding": {"x": {"datum": 0.841, "type": "quantitative"}, "y": {"field": "row", "type": "nominal"}, "text": {"field": "r2"}}},
     {"transform": [{"filter": "datum.row === 'h1' || datum.row === 'h2'"}], "mark": {"type": "text", "fontSize": 11, "fontWeight": "bold", "color": "#ffffff"},
      "encoding": {"x": {"datum": 0.569, "type": "quantitative"}, "y": {"field": "row", "type": "nominal"}, "text": {"field": "ec50"}}},
     {"transform": [{"filter": "datum.row === 'h1' || datum.row === 'h2'"}], "mark": {"type": "text", "fontSize": 11, "fontWeight": "bold", "color": "#ffffff"},
      "encoding": {"x": {"datum": 0.835, "type": "quantitative"}, "y": {"field": "row", "type": "nominal"}, "text": {"field": "r2"}}}
    ]}
  ],
  "resolve": {"scale": {"x": "independent", "y": "independent"}}
 }]
}
]}
]
}
